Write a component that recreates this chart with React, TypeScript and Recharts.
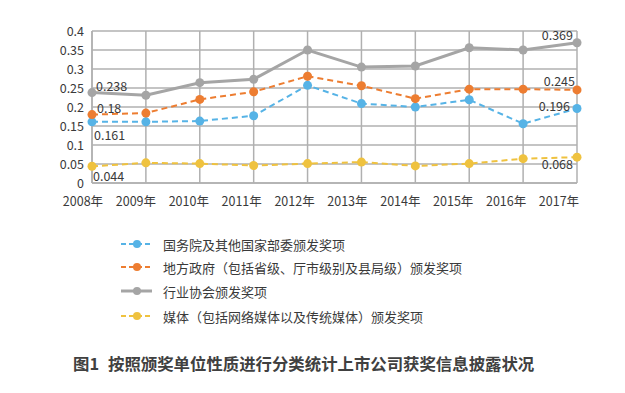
import { CartesianGrid, LabelList, Line, LineChart, XAxis, YAxis } from 'recharts'

const years = ['2008年', '2009年', '2010年', '2011年', '2012年', '2013年', '2014年', '2015年', '2016年', '2017年']
const stateCouncil = [0.161, 0.161, 0.163, 0.177, 0.257, 0.209, 0.2, 0.219, 0.156, 0.196]
const localGov = [0.18, 0.184, 0.22, 0.24, 0.281, 0.256, 0.222, 0.247, 0.247, 0.245]
const industry = [0.238, 0.231, 0.264, 0.273, 0.35, 0.305, 0.308, 0.356, 0.35, 0.369]
const media = [0.044, 0.053, 0.051, 0.046, 0.051, 0.055, 0.045, 0.051, 0.064, 0.068]
const yTicks = [0, 0.05, 0.1, 0.15, 0.2, 0.25, 0.3, 0.35, 0.4]

const FONT = '"Noto Sans CJK SC", "Noto Sans", sans-serif'
const GRID = '#b0b0b0'
const TEXT = '#3a3a3a'

const data = years.map((year, i) => ({
  year,
  stateCouncil: stateCouncil[i],
  localGov: localGov[i],
  industry: industry[i],
  media: media[i],
}))

// first / last: label offsets (dx, dy) for the 2008 and 2017 values
const series = [
  { key: 'stateCouncil', name: '国务院及其他国家部委颁发奖项', color: '#56b3e6', dashed: true, first: [2, 13], last: [-7, -3] },
  { key: 'localGov', name: '地方政府（包括省级、厅市级别及县局级）颁发奖项', color: '#ed7d31', dashed: true, first: [5, -7], last: [-2, -9] },
  { key: 'industry', name: '行业协会颁发奖项', color: '#a5a5a5', dashed: false, first: [4, -7], last: [-4, -8] },
  { key: 'media', name: '媒体（包括网络媒体以及传统媒体）颁发奖项', color: '#efc23f', dashed: true, first: [1, 9], last: [-4, 6] },
]

function makeLabel(first: number[], last: number[]) {
  return (props: any) => {
    const { index, x, y, value } = props
    if (index !== 0 && index !== years.length - 1) return null
    const isFirst = index === 0
    const off = isFirst ? first : last
    return (
      <text
        x={x + off[0]}
        y={y + off[1]}
        textAnchor={isFirst ? 'start' : 'end'}
        dominantBaseline="central"
        fontSize={12.5}
        fontFamily={FONT}
        fill={TEXT}
      >
        {value}
      </text>
    )
  }
}

function XTick({ x, y, payload, index }: any) {
  return (
    <text
      x={x - 9 - index}
      y={y + 15}
      textAnchor="middle"
      dominantBaseline="central"
      fontSize={12.5}
      fontFamily={FONT}
      fill={TEXT}
    >
      {payload.value}
    </text>
  )
}

function YTick({ x, y, payload }: any) {
  return (
    <text x={x} y={y - 1} textAnchor="end" dominantBaseline="central" fontSize={12.5} fontFamily={FONT} fill={TEXT}>
      {payload.value}
    </text>
  )
}

function LegendRow({ item, top }: { item: (typeof series)[number]; top: number }) {
  return (
    <div style={{ position: 'absolute', left: 120, top: top - 10, height: 20, display: 'flex', alignItems: 'center' }}>
      <svg width={34} height={20}>
        <line
          x1={1}
          y1={10}
          x2={32}
          y2={10}
          stroke={item.color}
          strokeWidth={item.dashed ? 2 : 3}
          strokeDasharray={item.dashed ? '5 3' : undefined}
        />
        <circle cx={17} cy={10} r={4} fill={item.color} />
      </svg>
      <span style={{ marginLeft: 9, fontSize: 13, color: TEXT, fontFamily: FONT, whiteSpace: 'nowrap' }}>{item.name}</span>
    </div>
  )
}

export default function App() {
  return (
    <div style={{ position: 'absolute', left: 0, top: 0, width: 625, height: 393, background: '#fff' }}>
      <LineChart width={625} height={215} data={data} margin={{ top: 31, right: 48, left: 32, bottom: 2 }}>
        <CartesianGrid stroke={GRID} strokeWidth={1.5} />
        <XAxis
          dataKey="year"
          height={30}
          interval={0}
          tickLine={false}
          tickSize={0}
          axisLine={{ stroke: GRID, strokeWidth: 1.5 }}
          tick={<XTick />}
        />
        <YAxis
          width={60}
          domain={[0, 0.4]}
          ticks={yTicks}
          interval={0}
          tickLine={false}
          tickSize={0}
          tickMargin={8}
          axisLine={{ stroke: GRID, strokeWidth: 1.5 }}
          tick={<YTick />}
        />
        {series.map((s) => (
          <Line
            key={s.key}
            dataKey={s.key}
            name={s.name}
            type="linear"
            stroke={s.color}
            strokeWidth={s.dashed ? 2 : 3}
            strokeDasharray={s.dashed ? '6 4' : undefined}
            dot={{ r: 4.5, fill: s.color, stroke: s.color, strokeWidth: 0 }}
            activeDot={false}
            isAnimationActive={false}
          >
            <LabelList dataKey={s.key} content={makeLabel(s.first, s.last)} />
          </Line>
        ))}
      </LineChart>
      {series.map((s, i) => (
        <LegendRow key={s.key} item={s} top={[244, 267, 291, 316][i]} />
      ))}
      <div
        style={{
          position: 'absolute',
          left: 73,
          top: 351,
          fontSize: 16.4,
          fontWeight: 700,
          color: '#404040',
          fontFamily: FONT,
          whiteSpace: 'nowrap',
        }}
      >
        图1<span style={{ marginLeft: 9 }}>按照颁奖单位性质进行分类统计上市公司获奖信息披露状况</span>
      </div>
    </div>
  )
}
